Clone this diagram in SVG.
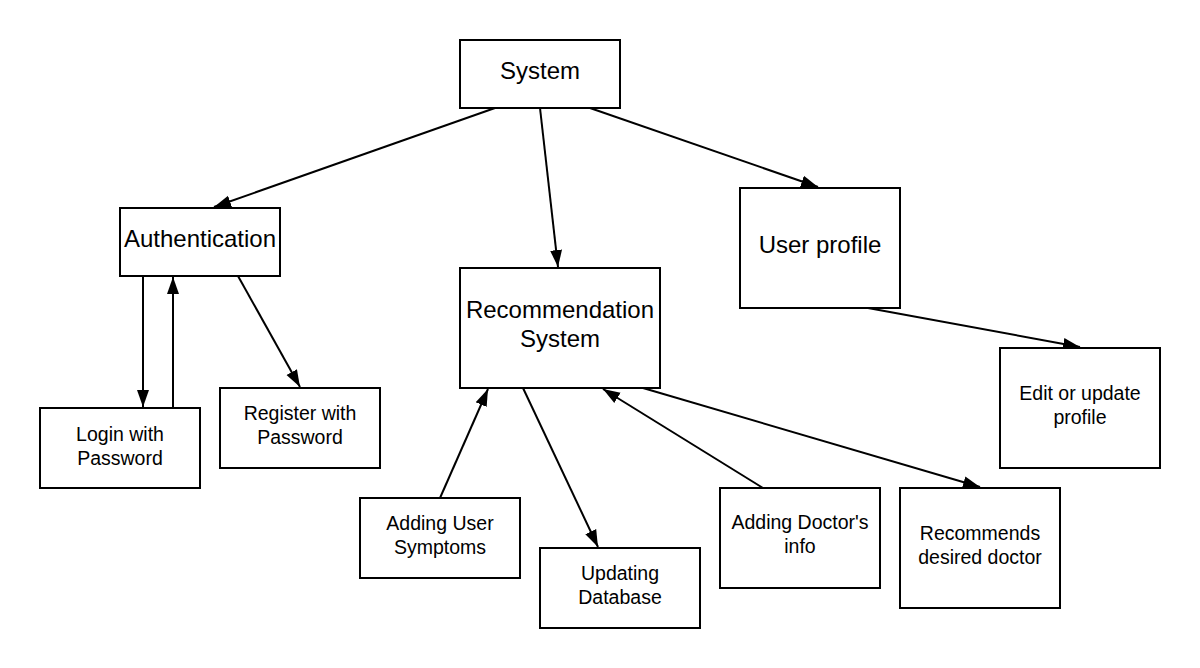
<svg xmlns="http://www.w3.org/2000/svg" width="1200" height="668" viewBox="0 0 1200 668">
<defs>
<style>
.box{fill:#fff;stroke:#000;stroke-width:2}
.big{font-family:"Liberation Sans",Arial,sans-serif;font-size:24px;fill:#000;text-anchor:middle}
.sm{font-family:"Liberation Sans",Arial,sans-serif;font-size:19.5px;fill:#000;text-anchor:middle}
.edge{stroke:#000;stroke-width:2;fill:none;marker-end:url(#ah)}
</style>
<marker id="ah" markerUnits="userSpaceOnUse" markerWidth="18" markerHeight="14" viewBox="0 0 18 14" refX="17" refY="7" orient="auto">
<path d="M0,1 L17,7 L0,13 Z" fill="#000"/>
</marker>
</defs>
<rect width="1200" height="668" fill="#fff"/>
<g id="connectors">
<line class="edge" x1="495" y1="108" x2="214" y2="207"/>
<line class="edge" x1="540" y1="108" x2="558" y2="267"/>
<line class="edge" x1="590" y1="108" x2="818" y2="187"/>
<line class="edge" x1="143" y1="276" x2="143" y2="407"/>
<line class="edge" x1="173" y1="408" x2="173" y2="277"/>
<line class="edge" x1="238" y1="276" x2="300" y2="387"/>
<line class="edge" x1="868" y1="308" x2="1080" y2="347"/>
<line class="edge" x1="440" y1="498" x2="488" y2="389"/>
<line class="edge" x1="523" y1="388" x2="598" y2="547"/>
<line class="edge" x1="763" y1="488" x2="603" y2="389"/>
<line class="edge" x1="643" y1="388" x2="980" y2="487"/>
</g>
<g id="system"><rect class="box" x="460" y="40" width="160" height="68"/><text class="big" x="540" y="79">System</text></g>
<g id="authentication"><rect class="box" x="120" y="208" width="160" height="68"/><text class="big" x="200" y="247">Authentication</text></g>
<g id="user-profile"><rect class="box" x="740" y="188" width="160" height="120"/><text class="big" x="820" y="253">User profile</text></g>
<g id="recommendation-system"><rect class="box" x="460" y="268" width="200" height="120"/><text class="big" x="560" y="318">Recommendation</text><text class="big" x="560" y="347">System</text></g>
<g id="login"><rect class="box" x="40" y="408" width="160" height="80"/><text class="sm" x="120" y="441">Login with</text><text class="sm" x="120" y="465">Password</text></g>
<g id="register"><rect class="box" x="220" y="388" width="160" height="80"/><text class="sm" x="300" y="420">Register with</text><text class="sm" x="300" y="444">Password</text></g>
<g id="edit-profile"><rect class="box" x="1000" y="348" width="160" height="120"/><text class="sm" x="1080" y="400">Edit or update</text><text class="sm" x="1080" y="424">profile</text></g>
<g id="adding-user-symptoms"><rect class="box" x="360" y="498" width="160" height="80"/><text class="sm" x="440" y="530">Adding User</text><text class="sm" x="440" y="554">Symptoms</text></g>
<g id="updating-database"><rect class="box" x="540" y="548" width="160" height="80"/><text class="sm" x="620" y="580">Updating</text><text class="sm" x="620" y="604">Database</text></g>
<g id="adding-doctor-info"><rect class="box" x="720" y="488" width="160" height="100"/><text class="sm" x="800" y="529">Adding Doctor's</text><text class="sm" x="800" y="553">info</text></g>
<g id="recommends-doctor"><rect class="box" x="900" y="488" width="160" height="120"/><text class="sm" x="980" y="540">Recommends</text><text class="sm" x="980" y="564">desired doctor</text></g>
</svg>
